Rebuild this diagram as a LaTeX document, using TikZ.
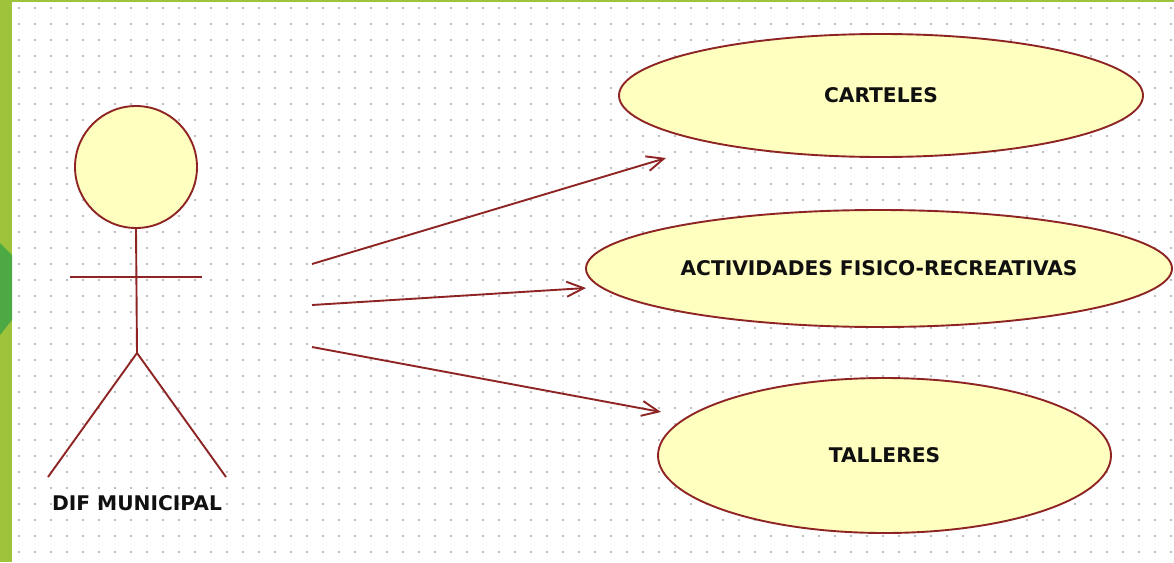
\documentclass[tikz,border=0pt]{standalone}
\usepackage{fontspec}
\setmainfont{DejaVu Sans}
\usetikzlibrary{shapes.geometric,arrows.meta}
\definecolor{umlred}{HTML}{8E2424}
\definecolor{umlfill}{HTML}{FFFFC0}
\definecolor{barlight}{HTML}{9DC33B}
\definecolor{bardark}{HTML}{4CA944}
\definecolor{dotgray}{HTML}{BDBDBD}
\definecolor{txt}{HTML}{101010}
\begin{document}
\begin{tikzpicture}[x=1pt,y=-1pt,
  usecase/.style={ellipse,draw=umlred,fill=umlfill,line width=1.9pt,inner sep=0pt,
    text=txt,font=\bfseries\fontsize{20.2}{24}\selectfont},
  assoc/.style={draw=umlred,line width=1.9pt,-{Straight Barb[length=17pt,width=15pt]}},
  actorline/.style={draw=umlred,line width=1.9pt},
  lbl/.style={text=txt,font=\bfseries\fontsize{20.2}{24}\selectfont,inner sep=0pt}]
\useasboundingbox (0,0) rectangle (1174,562);
\fill[white] (0,0) rectangle (1174,562);
% dotted grid
\foreach \i in {0,...,72}{\foreach \j in {0,...,34}{\fill[dotgray] ({18+16*\i},{7+16*\j}) rectangle ++(2.2,2.2);}}
% green frame
\fill[barlight] (0,0) rectangle (1174,2);
\fill[barlight] (0,0) rectangle (12,562);
\fill[bardark] (0,243) -- (12,255) -- (12,320) -- (0,335) -- cycle;
% actor
\node[circle,draw=umlred,fill=umlfill,line width=1.9pt,minimum size=122pt,inner sep=0pt] (head) at (136,167) {};
\coordinate (hip) at (137,353);
\coordinate (armL) at (70,277);
\coordinate (armR) at (202,277);
\coordinate (footL) at (48,477);
\coordinate (footR) at (226,477);
\draw[actorline] (head.south) -- (hip);
\draw[actorline] (armL) -- (armR);
\draw[actorline] (footL) -- (hip) -- (footR);
\node[lbl] (actor) at (137,503) {DIF MUNICIPAL};
% use cases
\node[usecase,minimum width=524pt,minimum height=123pt] (uc1) at (881,95.5) {CARTELES};
\node[usecase,minimum width=586pt,minimum height=117pt] (uc2) at (879,268.5) {ACTIVIDADES FISICO-RECREATIVAS};
\node[usecase,minimum width=453pt,minimum height=155pt] (uc3) at (884.5,455.5) {TALLERES};
% associations
\coordinate (s1) at (312,264);
\coordinate (s2) at (312,305);
\coordinate (s3) at (312,347);
\coordinate (e1) at (666,158);
\coordinate (e2) at (586,288);
\coordinate (e3) at (661,412);
\draw[assoc] (s1) -- (e1);
\draw[assoc] (s2) -- (e2);
\draw[assoc] (s3) -- (e3);
\end{tikzpicture}
\end{document}
